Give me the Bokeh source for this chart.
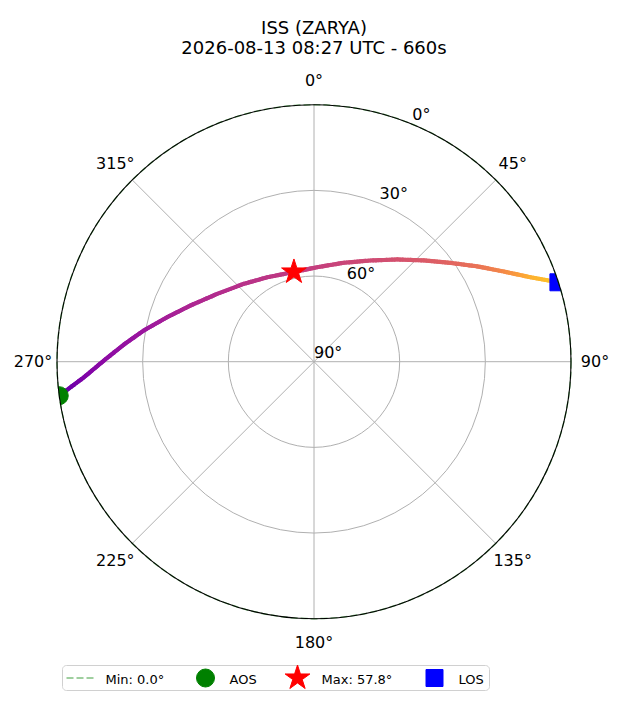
import numpy as np
from bokeh.plotting import figure
from bokeh.models import Range1d, ColumnDataSource
from bokeh.embed import file_html
from bokeh.resources import INLINE
from bokeh.palettes import Plasma256
from bokeh.core.properties import value

# ---------------- data ----------------
title_lines = ["ISS (ZARYA)", "2026-08-13 08:27 UTC - 660s"]
az_deg = [262.4, 266.1, 270.3, 275.2, 280.4, 286.9, 294.5, 305.0, 318.0, 331.0, 347.4,
          1.9, 16.8, 29.2, 39.2, 47.3, 54.1, 59.7, 64.6, 68.7, 72.0]
el_deg = [0.0, 9.2, 16.4, 23.2, 29.4, 36.3, 42.5, 48.6, 53.3, 56.2, 57.8,
          56.9, 53.8, 49.4, 43.8, 37.7, 31.0, 23.8, 16.4, 8.6, 0.0]
t_sec = [0, 121, 180, 217, 243, 264, 281, 295, 307, 317, 330,
         339, 351, 362, 376, 392, 412, 440, 480, 545, 660]
aos_az, aos_el = 262.4, 0.0
max_az, max_el = 347.4, 57.8
los_az, los_el = 72.0, 0.0
min_el = 0.0
angle_ticks = [0, 45, 90, 135, 180, 225, 270, 315]
angle_labels = ["0°", "45°", "90°", "135°", "180°", "225°", "270°", "315°"]
elev_ticks = [0, 30, 60, 90]
elev_labels = ["0°", "30°", "60°", "90°"]
legend_labels = ["Min: 0.0°", "AOS", "Max: 57.8°", "LOS"]

# colour-map positions along the pass (time fraction -> plasma position)
cmap_tf = [0.0, 0.368, 0.5, 0.624, 0.826, 1.0]
cmap_pos = [0.17, 0.33, 0.46, 0.60, 0.82, 0.89]

FONT = value("DejaVu Sans")
W, H = 612, 694
CX, CY, R = 313.5, 361.2, 257.0   # pixel centre and radius of the polar disc


def pg(xp, yp):
    """pixel position -> data coords"""
    return (xp - CX) / R, (CY - yp) / R


def polar(az, el):
    az = np.radians(np.asarray(az, dtype=float))
    r = (90.0 - np.asarray(el, dtype=float)) / 90.0
    return r * np.sin(az), r * np.cos(az)


p = figure(width=W, height=H, output_backend="svg", toolbar_location=None,
           x_range=Range1d(-CX / R, (W - CX) / R),
           y_range=Range1d((CY - H) / R, CY / R),
           min_border=0, min_border_left=0, min_border_right=0,
           min_border_top=0, min_border_bottom=0)
p.axis.visible = False
p.grid.visible = False
p.outline_line_color = None
p.background_fill_color = "white"
p.border_fill_color = "white"

# ---------------- grid ----------------
GRID = "#b0b0b0"
p.circle(x=[0, 0], y=[0, 0], radius=[1 / 3, 2 / 3], fill_color=None,
         line_color=GRID, line_width=1)
ex, ey = polar(angle_ticks, [0] * len(angle_ticks))
p.segment(x0=[0] * len(angle_ticks), y0=[0] * len(angle_ticks), x1=ex, y1=ey,
          line_color=GRID, line_width=1)

# ---------------- track, coloured by time ----------------
px_, py_ = polar(az_deg, el_deg)
xs, ys, cols = [], [], []
tmax = float(t_sec[-1])
for i in range(len(px_) - 1):
    n = 10
    for k in range(n):
        f0, f1 = k / n, (k + 1) / n
        x0 = px_[i] + (px_[i + 1] - px_[i]) * f0
        x1 = px_[i] + (px_[i + 1] - px_[i]) * f1
        y0 = py_[i] + (py_[i + 1] - py_[i]) * f0
        y1 = py_[i] + (py_[i + 1] - py_[i]) * f1
        tm = t_sec[i] + (t_sec[i + 1] - t_sec[i]) * (f0 + f1) / 2
        xs.append([float(x0), float(x1)])
        ys.append([float(y0), float(y1)])
        c = float(np.interp(tm / tmax, cmap_tf, cmap_pos))
        cols.append(Plasma256[int(round(c * 255))])
p.multi_line(xs="xs", ys="ys", line_color="color", line_width=4.2, line_cap="round",
             source=ColumnDataSource(dict(xs=xs, ys=ys, color=cols)))

# ---------------- markers ----------------
mx, my = polar([aos_az], [aos_el])
p.scatter(mx, my, marker="circle", size=18, fill_color="green", line_color="green")
mx, my = polar([max_az], [max_el])
p.scatter(mx, my, marker="star", size=26, fill_color="red", line_color="red")
mx, my = polar([los_az], [los_el])
p.scatter(mx, my, marker="square", size=17, fill_color="blue", line_color="blue")

# ---------------- clip mask outside the polar disc ----------------
th = np.linspace(0, 2 * np.pi, 721)
hole_x = list(np.sin(th)); hole_y = list(np.cos(th))
outer_x = [-5, 5, 5, -5]; outer_y = [-5, -5, 5, 5]
p.multi_polygons(xs=[[[outer_x, hole_x]]], ys=[[[outer_y, hole_y]]],
                 fill_color="white", line_color=None)

# min elevation circle + spine
p.circle(x=[0], y=[0], radius=[(90 - min_el) / 90], fill_color=None,
         line_color="green", line_alpha=0.5, line_dash="7 3", line_width=1.5)
p.circle(x=[0], y=[0], radius=[1.0], fill_color=None, line_color="black", line_width=1.1)

# ---------------- angle labels ----------------
lx, ly = polar(angle_ticks, [90 - 90 * 1.0934] * len(angle_ticks))
p.text(x=lx, y=ly, text=angle_labels, text_font=FONT, text_font_size=value("16px"),
       text_align="center", text_baseline="middle", text_color="black")

# radial labels (elevation)
rx, ry = polar([22.5] * len(elev_ticks), elev_ticks)
p.text(x=rx, y=ry, text=elev_labels, text_font=FONT, text_font_size=value("16px"),
       text_align="left", text_baseline="bottom", text_color="black")

# ---------------- title ----------------
tx1, ty1 = pg(313.5, 27)
tx2, ty2 = pg(313.5, 47)
p.text(x=[tx1, tx2], y=[ty1, ty2], text=title_lines, text_font=FONT,
       text_font_size=value("18px"), text_align="center", text_baseline="alphabetic",
       text_color="black")

# ---------------- legend ----------------
lx0, ly0 = pg(62, 665)
lx1, ly1 = pg(489, 690)
rad = 4 / R
corner = np.linspace(0, np.pi / 2, 8)
bx, by = [], []
for cxp, cyp, start in [(lx1 - rad, ly0 - rad, 0), (lx0 + rad, ly0 - rad, np.pi / 2),
                        (lx0 + rad, ly1 + rad, np.pi), (lx1 - rad, ly1 + rad, 1.5 * np.pi)]:
    for a in corner + start:
        bx.append(cxp + rad * np.cos(a)); by.append(cyp + rad * np.sin(a))
p.patch(bx, by, fill_color="white", line_color="#d0d0d0", line_width=1)

ymid = 677.5
a0x, a0y = pg(66, ymid); a1x, _ = pg(93, ymid)
p.line([a0x, a1x], [a0y, a0y], line_color="green", line_alpha=0.5, line_dash="7 3",
       line_width=1.5)
gx, gy = pg(205, ymid)
p.scatter([gx], [gy], marker="circle", size=18, fill_color="green", line_color="green")
sx, sy = pg(297, ymid)
p.scatter([sx], [sy], marker="star", size=26, fill_color="red", line_color="red")
qx, qy = pg(434, ymid)
p.scatter([qx], [qy], marker="square", size=17, fill_color="blue", line_color="blue")
text_x = [pg(105, ymid)[0], pg(229, ymid)[0], pg(321, ymid)[0], pg(458, ymid)[0]]
p.text(x=text_x, y=[pg(0, ymid + 1)[1]] * 4, text=legend_labels, text_font=FONT,
       text_font_size=value("13px"), text_align="left", text_baseline="middle",
       text_color="black")

open("out.html", "w").write(file_html(p, INLINE))
